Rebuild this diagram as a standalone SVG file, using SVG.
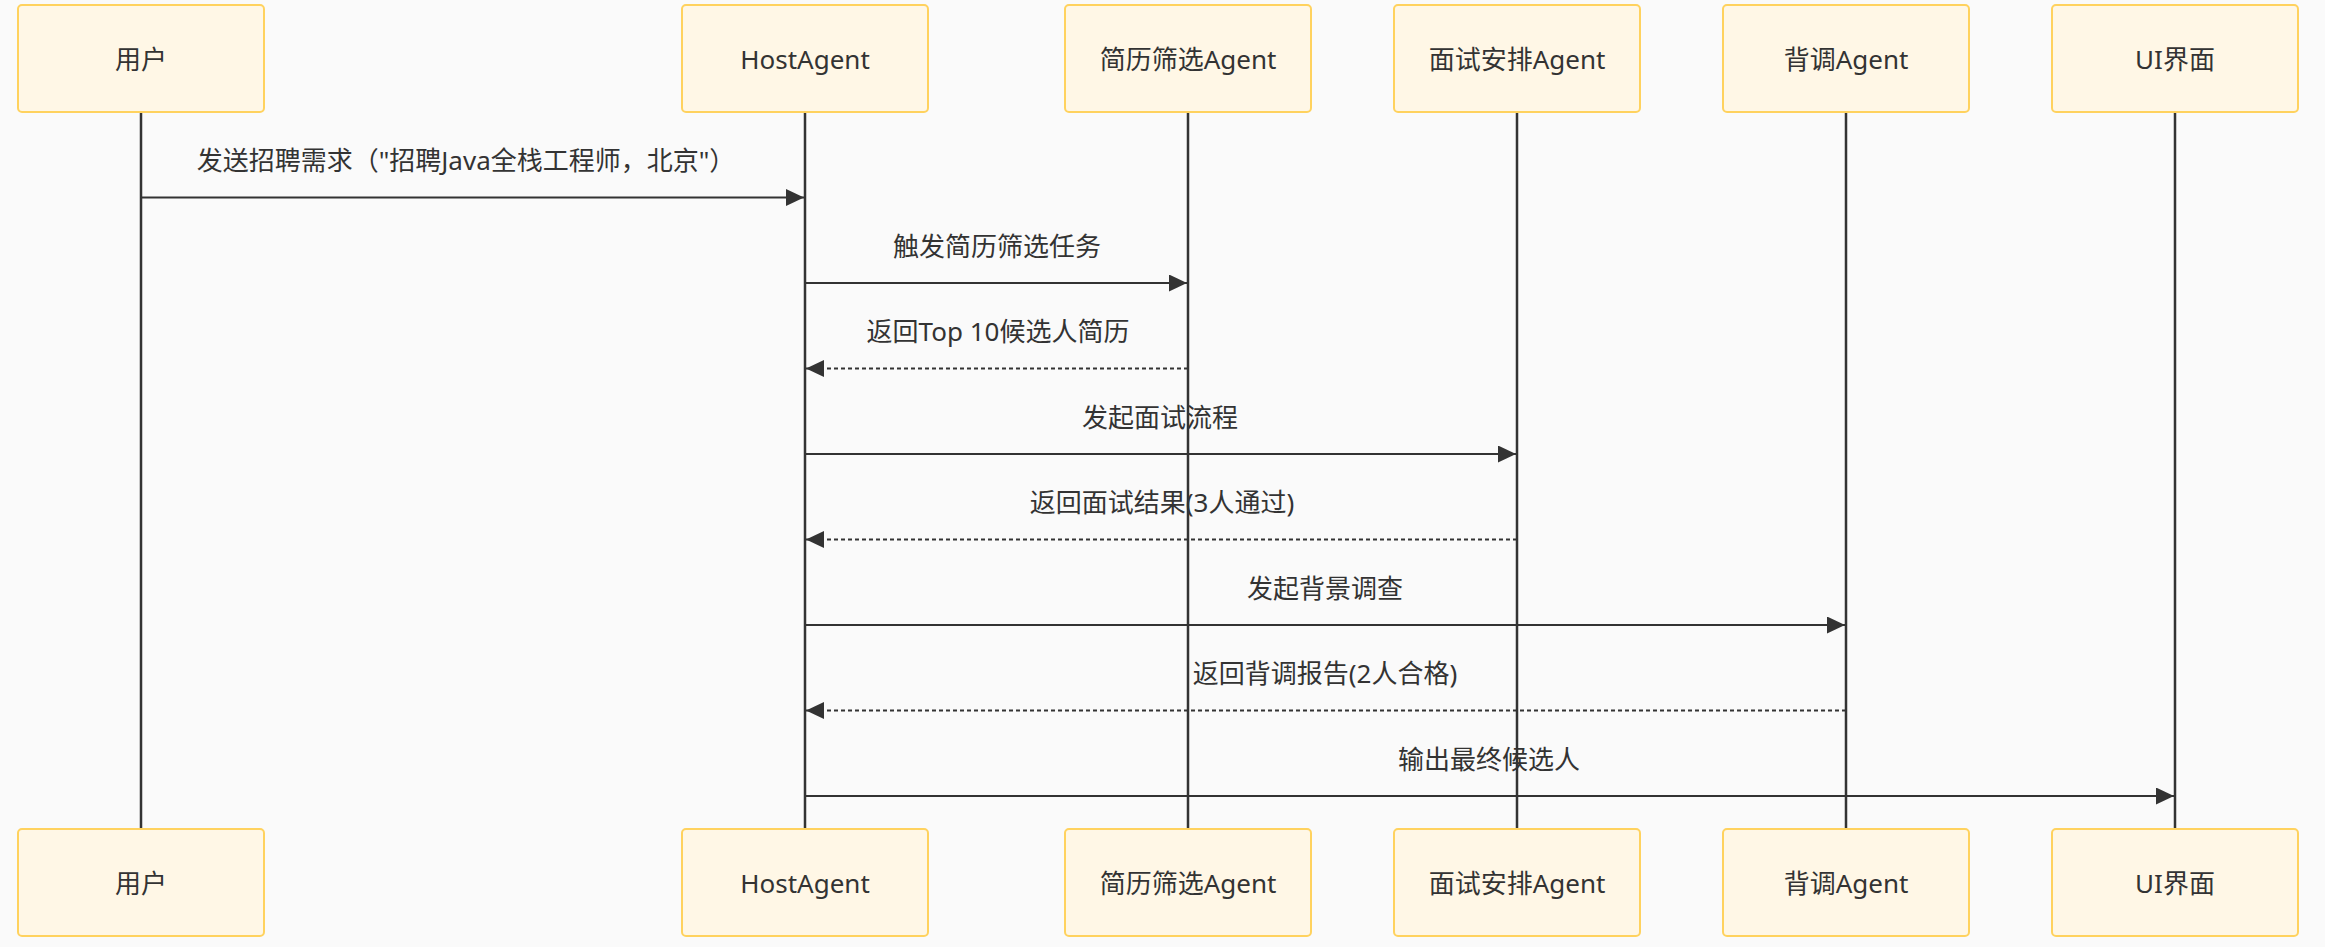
<svg xmlns="http://www.w3.org/2000/svg" width="2325" height="947" viewBox="0 0 2325 947">
<defs>
<style>
.box{fill:#fff7e6;stroke:#ffd25e;stroke-width:2}
.lbl{font-family:"Noto Sans","Noto Sans CJK SC",sans-serif;font-size:26px;fill:#333;text-anchor:middle;dominant-baseline:central}
.life{stroke:#333;stroke-width:2.5}
.msg{stroke:#333;stroke-width:2.2;fill:none}
.dash{stroke-dasharray:4 3}
</style>
<marker id="ah" viewBox="0 0 18 17" refX="18" refY="8.5" markerWidth="18" markerHeight="17" markerUnits="userSpaceOnUse" orient="auto">
<path d="M0,0 L18,8.5 L0,17 Z" fill="#333"/>
</marker>
</defs>
<rect width="2325" height="947" fill="#fafafa"/>
<g id="messages">
<line class="msg" x1="141" y1="197.5" x2="804" y2="197.5" marker-end="url(#ah)"/>
<text class="lbl" x="466" y="160">发送招聘需求（"招聘Java全栈工程师，北京"）</text>
<line class="msg" x1="805" y1="283" x2="1187" y2="283" marker-end="url(#ah)"/>
<text class="lbl" x="997" y="245.5">触发简历筛选任务</text>
<line class="msg dash" x1="1188" y1="368.5" x2="806" y2="368.5" marker-end="url(#ah)"/>
<text class="lbl" x="998" y="331">返回Top 10候选人简历</text>
<line class="msg" x1="805" y1="454" x2="1516" y2="454" marker-end="url(#ah)"/>
<text class="lbl" x="1160" y="416.5">发起面试流程</text>
<line class="msg dash" x1="1517" y1="539.5" x2="806" y2="539.5" marker-end="url(#ah)"/>
<text class="lbl" x="1162" y="502">返回面试结果(3人通过)</text>
<line class="msg" x1="805" y1="625" x2="1845" y2="625" marker-end="url(#ah)"/>
<text class="lbl" x="1325" y="587.5">发起背景调查</text>
<line class="msg dash" x1="1846" y1="710.5" x2="806" y2="710.5" marker-end="url(#ah)"/>
<text class="lbl" x="1325" y="673">返回背调报告(2人合格)</text>
<line class="msg" x1="805" y1="796" x2="2174" y2="796" marker-end="url(#ah)"/>
<text class="lbl" x="1489" y="758.5">输出最终候选人</text>
</g>
<g id="lifelines">
<line class="life" x1="141" y1="112" x2="141" y2="829"/>
<line class="life" x1="805" y1="112" x2="805" y2="829"/>
<line class="life" x1="1188" y1="112" x2="1188" y2="829"/>
<line class="life" x1="1517" y1="112" x2="1517" y2="829"/>
<line class="life" x1="1846" y1="112" x2="1846" y2="829"/>
<line class="life" x1="2175" y1="112" x2="2175" y2="829"/>
</g>
<g id="user-top"><rect class="box" x="18" y="5" width="246" height="107" rx="4"/><text class="lbl" x="141" y="59">用户</text></g>
<g id="host-top"><rect class="box" x="682" y="5" width="246" height="107" rx="4"/><text class="lbl" x="805" y="59">HostAgent</text></g>
<g id="resume-top"><rect class="box" x="1065" y="5" width="246" height="107" rx="4"/><text class="lbl" x="1188" y="59">简历筛选Agent</text></g>
<g id="interview-top"><rect class="box" x="1394" y="5" width="246" height="107" rx="4"/><text class="lbl" x="1517" y="59">面试安排Agent</text></g>
<g id="bg-top"><rect class="box" x="1723" y="5" width="246" height="107" rx="4"/><text class="lbl" x="1846" y="59">背调Agent</text></g>
<g id="ui-top"><rect class="box" x="2052" y="5" width="246" height="107" rx="4"/><text class="lbl" x="2175" y="59">UI界面</text></g>
<g id="user-bottom"><rect class="box" x="18" y="829" width="246" height="107" rx="4"/><text class="lbl" x="141" y="883">用户</text></g>
<g id="host-bottom"><rect class="box" x="682" y="829" width="246" height="107" rx="4"/><text class="lbl" x="805" y="883">HostAgent</text></g>
<g id="resume-bottom"><rect class="box" x="1065" y="829" width="246" height="107" rx="4"/><text class="lbl" x="1188" y="883">简历筛选Agent</text></g>
<g id="interview-bottom"><rect class="box" x="1394" y="829" width="246" height="107" rx="4"/><text class="lbl" x="1517" y="883">面试安排Agent</text></g>
<g id="bg-bottom"><rect class="box" x="1723" y="829" width="246" height="107" rx="4"/><text class="lbl" x="1846" y="883">背调Agent</text></g>
<g id="ui-bottom"><rect class="box" x="2052" y="829" width="246" height="107" rx="4"/><text class="lbl" x="2175" y="883">UI界面</text></g>
</svg>
